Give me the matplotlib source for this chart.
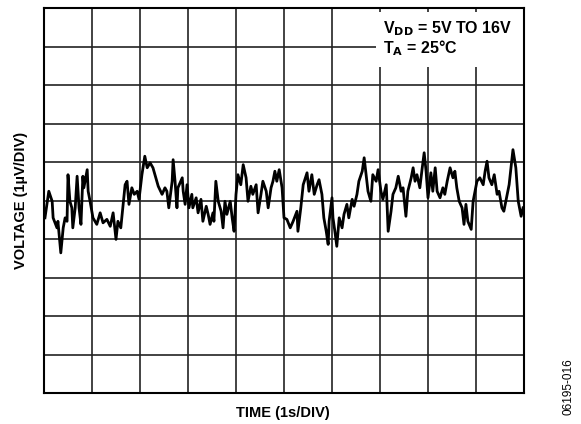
"""
Voltage noise vs time, scope-style trace (1 uV/div, 1 s/div).
"""
import matplotlib
matplotlib.use("Agg")
import matplotlib.pyplot as plt
from matplotlib.patches import Rectangle

# time in seconds (1 s/div), voltage in uV (1 uV/div)
time_s = [
    0.02, 0.10, 0.17, 0.19, 0.27, 0.29, 0.35, 0.40, 0.44, 0.48,
    0.50, 0.54, 0.58, 0.60, 0.65, 0.69, 0.73, 0.77, 0.81, 0.83,
    0.90, 0.92, 0.96, 1.02, 1.10, 1.17, 1.23, 1.31, 1.38, 1.44,
    1.50, 1.54, 1.60, 1.65, 1.69, 1.73, 1.77, 1.83, 1.88, 1.94,
    1.98, 2.04, 2.10, 2.15, 2.21, 2.27, 2.33, 2.38, 2.46, 2.52,
    2.56, 2.60, 2.67, 2.69, 2.73, 2.77, 2.79, 2.88, 2.90, 2.94,
    2.98, 3.02, 3.08, 3.10, 3.17, 3.21, 3.27, 3.31, 3.38, 3.42,
    3.46, 3.52, 3.54, 3.58, 3.63, 3.69, 3.73, 3.77, 3.81, 3.88,
    3.92, 3.96, 4.00, 4.04, 4.10, 4.15, 4.21, 4.25, 4.31, 4.35,
    4.42, 4.46, 4.52, 4.56, 4.63, 4.67, 4.73, 4.77, 4.81, 4.85,
    4.90, 4.96, 5.00, 5.06, 5.13, 5.19, 5.27, 5.29, 5.35, 5.40,
    5.48, 5.52, 5.58, 5.63, 5.69, 5.73, 5.79, 5.83, 5.88, 5.92,
    5.94, 6.00, 6.02, 6.06, 6.10, 6.15, 6.21, 6.25, 6.31, 6.35,
    6.42, 6.46, 6.52, 6.56, 6.63, 6.67, 6.71, 6.75, 6.81, 6.85,
    6.92, 6.96, 7.02, 7.06, 7.13, 7.17, 7.23, 7.27, 7.33, 7.38,
    7.44, 7.48, 7.54, 7.58, 7.65, 7.69, 7.73, 7.77, 7.83, 7.88,
    7.92, 7.96, 8.00, 8.06, 8.10, 8.15, 8.19, 8.25, 8.31, 8.35,
    8.40, 8.46, 8.52, 8.56, 8.60, 8.65, 8.71, 8.75, 8.79, 8.83,
    8.90, 8.94, 8.98, 9.02, 9.08, 9.15, 9.19, 9.23, 9.27, 9.33,
    9.38, 9.44, 9.48, 9.54, 9.58, 9.65, 9.69, 9.75, 9.77, 9.83,
    9.88, 9.94, 9.98,
]
voltage_uv = [
    -0.45, 0.24, -0.02, -0.45, -0.71, -0.54, -1.36, -0.71, -0.45, -0.54,
    0.67, -0.02, -0.19, -0.71, -0.19, 0.63, -0.19, -0.62, 0.63, 0.33,
    0.80, 0.24, -0.02, -0.45, -0.62, -0.32, -0.58, -0.49, -0.67, -0.32,
    -1.01, -0.54, -0.71, -0.10, 0.41, 0.50, -0.10, 0.33, 0.16, 0.24,
    0.03, 0.67, 1.15, 0.85, 0.98, 0.85, 0.59, 0.37, 0.16, 0.33,
    0.24, -0.19, 0.50, 1.06, 0.50, -0.19, 0.33, 0.59, 0.24, -0.10,
    0.41, -0.19, 0.16, -0.19, 0.07, -0.32, 0.03, -0.54, -0.15, -0.36,
    -0.62, -0.32, -0.54, 0.50, -0.02, -0.28, -0.71, -0.02, -0.36, -0.02,
    -0.45, -0.80, 0.16, 0.67, 0.41, 0.93, 0.59, -0.02, 0.37, 0.16,
    0.41, -0.32, 0.16, 0.50, 0.24, -0.19, 0.33, 0.50, 0.76, 0.50,
    0.80, 0.33, -0.45, -0.49, -0.71, -0.54, -0.28, -0.80, -0.19, 0.41,
    0.72, 0.24, 0.67, 0.16, 0.41, 0.54, 0.16, -0.45, -0.80, -1.14,
    -0.54, 0.07, -0.45, -0.80, -1.19, -0.45, -0.71, -0.36, -0.10, -0.45,
    0.03, -0.15, 0.16, 0.50, 0.76, 1.11, 0.67, 0.24, -0.02, 0.67,
    0.50, 0.80, 0.24, 0.03, 0.41, -0.80, -0.28, 0.16, 0.33, 0.63,
    0.24, 0.33, -0.41, 0.24, 0.59, 0.85, 0.50, 0.67, 0.33, 0.85,
    1.24, 0.76, 0.07, 0.72, 0.24, 0.85, 0.24, 0.07, 0.33, 0.16,
    0.50, 0.85, 0.59, 0.76, 0.33, -0.02, -0.19, -0.62, -0.10, -0.54,
    -0.75, -0.02, 0.24, 0.50, 0.59, 0.41, 0.76, 1.02, 0.59, 0.41,
    0.67, 0.16, 0.24, -0.19, -0.28, 0.16, 0.41, 1.11, 1.32, 0.85,
    -0.02, -0.41, -0.19,
]

x_divs = list(range(0, 11))
y_divs = list(range(-5, 6))

plt.rcParams["font.family"] = ["Liberation Sans", "DejaVu Sans"]
plt.rcParams["font.weight"] = "bold"
plt.rcParams["mathtext.default"] = "bf"

fig = plt.figure(figsize=(5.81, 4.24), dpi=100)
ax = fig.add_axes([44 / 581, 1 - 393 / 424, 480 / 581, 385 / 424])

for x in x_divs[1:-1]:
    ax.axvline(x, color="#222222", lw=1.2, zorder=1)
for y in y_divs[1:-1]:
    ax.axhline(y, color="#222222", lw=1.2, zorder=1)

ax.plot(time_s, voltage_uv, color="black", lw=2.0, zorder=3)

ax.set_xlim(0, 10)
ax.set_ylim(-5, 5)
ax.set_xticks([])
ax.set_yticks([])
for s in ax.spines.values():
    s.set_linewidth(1.5)
    s.set_color("black")
    s.set_zorder(5)

# white patch behind the conditions note
ax.add_patch(Rectangle((0.692, 0.847), 0.308, 0.143, transform=ax.transAxes,
                       facecolor="white", edgecolor="none", zorder=2))
ax.text(0.706, (393 - 33) / 385, "V$_{DD}$ = 5V TO 16V",
        transform=ax.transAxes, fontsize=11.5, fontweight="bold",
        va="baseline", ha="left", zorder=4)
ax.text(0.706, (393 - 53) / 385, "T$_{A}$ = 25°C",
        transform=ax.transAxes, fontsize=11.5, fontweight="bold",
        va="baseline", ha="left", zorder=4)

fig.text(21.5 / 581, 1 - 200 / 424, "VOLTAGE (1µV/DIV)", rotation=90,
         ha="center", va="center", fontsize=10.5, fontweight="bold")
fig.text(283 / 581, 1 - 417 / 424, "TIME (1s/DIV)",
         ha="center", va="baseline", fontsize=10.5, fontweight="bold")
fig.text(568 / 581, 1 - 415 / 424, "06195-016", rotation=90,
         ha="center", va="bottom", fontsize=8.5, fontweight="normal")

fig.savefig("out.png", dpi=100)
